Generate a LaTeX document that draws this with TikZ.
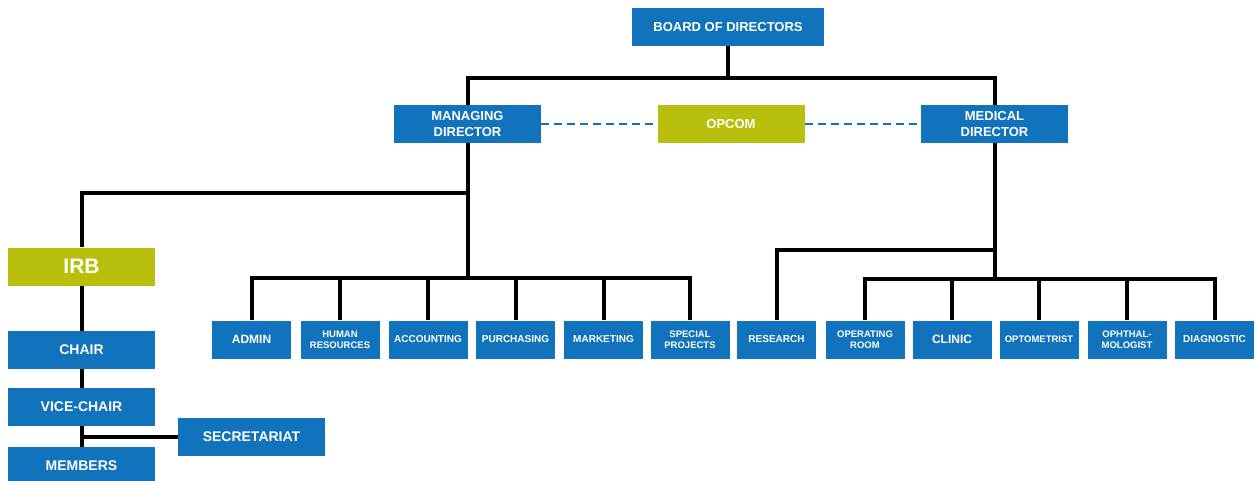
\documentclass[tikz,border=0pt]{standalone}
\usepackage{fontspec}
\setmainfont{Liberation Sans}
\definecolor{orgblue}{RGB}{17,115,187}
\definecolor{orgolive}{RGB}{184,191,13}
\tikzset{
unit/.style={
	fill=orgblue, text=white, inner sep=0pt, align=center,
	minimum width=147pt, minimum height=38pt,
	font=\bfseries\fontsize{13}{16}\selectfont},
board/.style={unit, minimum width=192pt},
panel/.style={unit, fill=orgolive},
irbunit/.style={unit, font=\bfseries\fontsize{14}{16}\selectfont},
dept/.style={unit, minimum width=79pt,
	font=\bfseries\fontsize{10}{11}\selectfont},
deptwo/.style={dept, font=\bfseries\fontsize{9.5}{11}\selectfont},
wire/.style={draw=black, line width=4pt},
dashwire/.style={draw=orgblue, line width=1.8pt, dash pattern=on 8pt off 5pt}
}

\begin{document}
\begin{tikzpicture}[x=1pt, y=-1pt]
	\useasboundingbox (0,0) rectangle (1257,481);
	% top
	\node[board] (bod) at (728,27) {BOARD OF DIRECTORS};
	\node[unit] (md) at (467.5,124) {MANAGING\\DIRECTOR};
	\node[panel] (opcom) at (731,124) {OPCOM};
	\node[unit] (med) at (994.5,124) {MEDICAL\\DIRECTOR};
	% irb column
	\node[panel, font=\bfseries\fontsize{21}{22}\selectfont] (irb) at (81.5,266.5) {IRB};
	\node[irbunit] (chair) at (81.5,350) {CHAIR};
	\node[irbunit] (vice) at (81.5,407) {VICE-CHAIR};
	\node[irbunit] (members) at (81.5,466) {MEMBERS};
	\node[irbunit] (sec) at (251.5,436.5) {SECRETARIAT};
	% departments
	\node[dept, font=\bfseries\fontsize{12}{13}\selectfont] (admin) at (251.5,339.5) {ADMIN};
	\node[deptwo] (hr) at (340,339.5) {HUMAN\\RESOURCES};
	\node[dept] (acc) at (428,339.5) {ACCOUNTING};
	\node[dept] (purch) at (515.5,339.5) {PURCHASING};
	\node[dept] (mkt) at (603.5,339.5) {MARKETING};
	\node[deptwo] (spec) at (690,339.5) {SPECIAL\\PROJECTS};
	\node[dept] (res) at (776.5,339.5) {RESEARCH};
	\node[deptwo] (oproom) at (865,339.5) {OPERATING\\ROOM};
	\node[dept, font=\bfseries\fontsize{12}{13}\selectfont] (clinic) at (952,339.5) {CLINIC};
	\node[dept, font=\bfseries\fontsize{9.5}{10}\selectfont] (opto) at (1039,339.5) {OPTOMETRIST};
	\node[deptwo] (ophth) at (1127,339.5) {OPHTHAL-\\MOLOGIST};
	\node[dept] (diag) at (1214.5,339.5) {DIAGNOSTIC};
	% bars
	\coordinate (topbar) at (728,78);
	\coordinate (irbbar) at (467.5,193);
	\coordinate (mdbar) at (467.5,278);
	\coordinate (resbar) at (994.5,250);
	\coordinate (medbar) at (994.5,279);
	% connectors
	\draw[wire] (bod) -- (topbar);
	\draw[wire] (md.north) |- (topbar) -| (med.north);
	\draw[wire] (md) -- (mdbar);
	\draw[wire] (irbbar) -| (irb.north);
	\foreach \d in {admin,hr,acc,purch,mkt,spec}
		\draw[wire] (mdbar) -| (\d.north);
	\draw[wire] (med) -- (medbar);
	\draw[wire] (resbar) -| (res.north);
	\foreach \d in {oproom,clinic,opto,ophth,diag}
		\draw[wire] (medbar) -| (\d.north);
	\draw[wire] (irb) -- (chair) -- (vice) -- (members);
	\draw[wire] (sec.west) -- (sec.west -| vice.south);
	\draw[dashwire] (md.east) -- (opcom.west);
	\draw[dashwire] (opcom.east) -- (med.west);
\end{tikzpicture}
\end{document}
